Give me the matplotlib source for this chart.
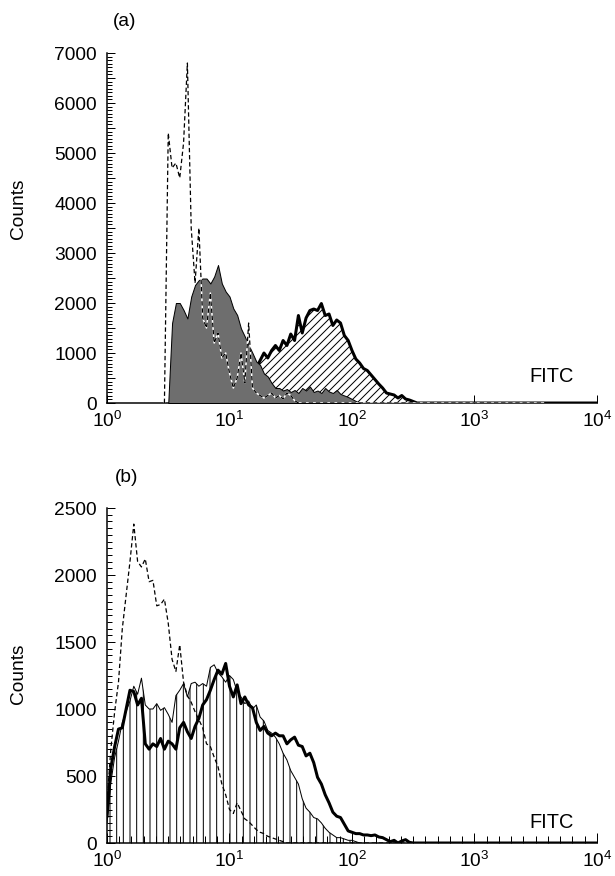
import numpy as np
import matplotlib
matplotlib.use('Agg')
import matplotlib.pyplot as plt
from matplotlib.ticker import MultipleLocator, FixedLocator, FuncFormatter

plt.rcParams['font.family'] = ['Liberation Sans', 'DejaVu Sans']
plt.rcParams['mathtext.fontset'] = 'custom'
plt.rcParams['mathtext.rm'] = 'Liberation Sans'
plt.rcParams['mathtext.default'] = 'regular'
plt.rcParams['hatch.linewidth'] = 0.6

# canales FITC: 32 canales por decada, de 10^0 a 10^4
canal = np.arange(129)
fitc = 10 ** (canal / 32)

# --- panel (a) ---
a_dashed_start = 15
a_dashed = [0, 5400, 4700, 4800, 4500, 5200, 6800, 3500, 2400, 3500,
            1700, 1500, 2200, 1200, 1400, 900, 1000, 600, 300, 500,
            1000, 400, 1600, 300, 200, 150, 100, 150, 200, 100,
            150, 80, 200, 150, 50] + [0] * 65

a_gray_start = 16
a_gray = [0, 1600, 2000, 2000, 1860, 1690, 2130, 2360, 2460, 2490,
          2490, 2390, 2530, 2760, 2390, 2230, 2130, 1890, 1760, 1490,
          1330, 1160, 1000, 830, 760, 590, 530, 400, 300, 300,
          250, 280, 220, 260, 200, 300, 250, 330, 220, 250,
          200, 300, 230, 200, 260, 180, 150, 120, 80, 40, 0]

a_hatch_start = 37
a_hatch = [0, 400, 700, 850, 1000, 900, 1050, 1150, 1050, 1250,
           1150, 1380, 1250, 1750, 1400, 1700, 1850, 1880, 1850, 1990,
           1750, 1780, 1550, 1660, 1600, 1350, 1250, 1050, 880, 800,
           690, 650, 560, 470, 380, 300, 200, 180, 160, 100,
           150, 80, 60, 30] + [0] * 48

# --- panel (b) ---
b_dashed = [300, 700, 980, 1200, 1600, 1850, 2100, 2380, 2100, 2060,
            2120, 1950, 1960, 1770, 1780, 1820, 1640, 1370, 1280, 1480,
            1200, 1100, 1050, 980, 920, 860, 740, 720, 640, 570,
            440, 360, 250, 220, 300, 240, 180, 160, 130, 100,
            80, 70, 50, 40, 30, 20, 10] + [0] * 33

b_thin = [150, 450, 640, 760, 900, 980, 1060, 1170, 1110, 1230,
          1030, 1000, 1000, 1040, 990, 1010, 960, 900, 1100, 1140,
          1190, 1090, 1190, 1200, 1170, 1190, 1170, 1310, 1330, 1270,
          1240, 1200, 1250, 1220, 1130, 1090, 1040, 1060, 1000, 1030,
          940, 910, 840, 820, 790, 740, 670, 620, 540, 490,
          440, 330, 260, 230, 190, 180, 150, 110, 80, 60,
          40, 40, 30, 20, 20, 10, 0]

b_thick = [200, 560, 720, 850, 860, 1000, 1140, 1130, 1030, 1080,
           740, 700, 740, 720, 780, 700, 760, 740, 700, 860,
           900, 830, 780, 870, 930, 1030, 1070, 1140, 1220, 1290,
           1260, 1340, 1170, 1090, 1180, 1040, 1090, 1030, 1010, 900,
           840, 870, 820, 800, 820, 800, 800, 740, 770, 790,
           730, 720, 650, 670, 600, 490, 440, 360, 300, 230,
           200, 190, 140, 90, 80, 70, 70, 60, 60, 55,
           60, 45, 40, 25, 10, 20, 0, 15, 25, 5] + [0] * 49

gris = '#6e6e6e'


def tramo(start, valores):
    return fitc[start:start + len(valores)]


def ejes(ax, ymax, ypaso_largo, ypaso_label, ymenor, xmenor):
    ax.set_xscale('log')
    ax.set_xlim(1, 1e4)
    ax.set_ylim(0, ymax)
    for s in ['top', 'right']:
        ax.spines[s].set_visible(False)
    for s in ['left', 'bottom']:
        ax.spines[s].set_linewidth(0.9)
    ax.xaxis.set_major_locator(FixedLocator([1, 10, 100, 1000, 10000]))
    ax.xaxis.set_major_formatter(FuncFormatter(lambda v, p: '10$^{%d}$' % round(np.log10(v))))
    ax.xaxis.set_minor_locator(FixedLocator(xmenor if xmenor else []))
    ax.xaxis.set_minor_formatter(FuncFormatter(lambda v, p: ''))
    ax.yaxis.set_major_locator(MultipleLocator(ypaso_largo))
    ax.yaxis.set_major_formatter(FuncFormatter(
        lambda v, p: '%d' % v if round(v) % ypaso_label == 0 else ''))
    ax.yaxis.set_minor_locator(FixedLocator(ymenor))
    ax.tick_params(axis='both', which='major', direction='in', width=0.6, labelsize=11.5)
    ax.tick_params(axis='y', which='major', length=4.8, pad=6)
    ax.tick_params(axis='y', which='minor', direction='in', length=2.7, width=0.6)
    ax.tick_params(axis='x', which='major', length=5, pad=4.5)
    ax.tick_params(axis='x', which='minor', direction='in', length=4, width=0.6)


fig = plt.figure(figsize=(5.125, 7.3), dpi=120)

# (a)
ax = fig.add_axes([0.17398, 0.53995, 0.79675, 0.39954])
x = tramo(a_hatch_start, a_hatch)
ax.fill_between(x, a_hatch, facecolor='white', edgecolor='black', hatch='/////',
                linewidth=0, zorder=2)
ax.plot(x, a_hatch, color='black', lw=1.8, zorder=3)
x = tramo(a_gray_start, a_gray)
ax.fill_between(x, a_gray, facecolor=gris, edgecolor='black', linewidth=0.6, zorder=4)
x = tramo(a_dashed_start, a_dashed)
ax.plot(x, a_dashed, color='white', lw=0.9, zorder=5)
ax.plot(x, a_dashed, color='black', lw=0.75, dashes=(3.5, 2.2), zorder=6)
ejes(ax, 7000, 500, 1000, np.linspace(0, 7000, 99), None)

# (b)
ax = fig.add_axes([0.17398, 0.03767, 0.79675, 0.38242])
x = tramo(0, b_thin)
ax.fill_between(x, b_thin, facecolor='none', edgecolor='black', hatch='|||',
                linewidth=0, zorder=2)
ax.plot(x, b_thin, color='black', lw=0.6, zorder=3)
x = tramo(0, b_dashed)
ax.plot(x, b_dashed, color='black', lw=0.75, dashes=(3.5, 2.2), zorder=4)
x = tramo(0, b_thick)
ax.plot(x, b_thick, color='black', lw=1.8, zorder=5)
xm = [10 ** (d + i / 10) for d in range(4) for i in range(1, 10)]
ejes(ax, 2500, 500, 500, np.arange(0, 2501, 50), xm)
ax.tick_params(axis='x', which='major', length=6)

# textos
fig.text(113 / 615, 1 - 22 / 876, '(a)', fontsize=11.5, ha='left', va='center')
fig.text(115 / 615, 1 - 478 / 876, '(b)', fontsize=11.5, ha='left', va='center')
fig.text(18.5 / 615, 1 - 209 / 876, 'Counts', fontsize=11.5, rotation=90, ha='center', va='center')
fig.text(18.5 / 615, 1 - 674 / 876, 'Counts', fontsize=11.5, rotation=90, ha='center', va='center')
fig.text(552 / 615, 1 - 376 / 876, 'FITC', fontsize=12, ha='center', va='center')
fig.text(552 / 615, 1 - 822 / 876, 'FITC', fontsize=12, ha='center', va='center')

fig.savefig('out.png', dpi=120)
